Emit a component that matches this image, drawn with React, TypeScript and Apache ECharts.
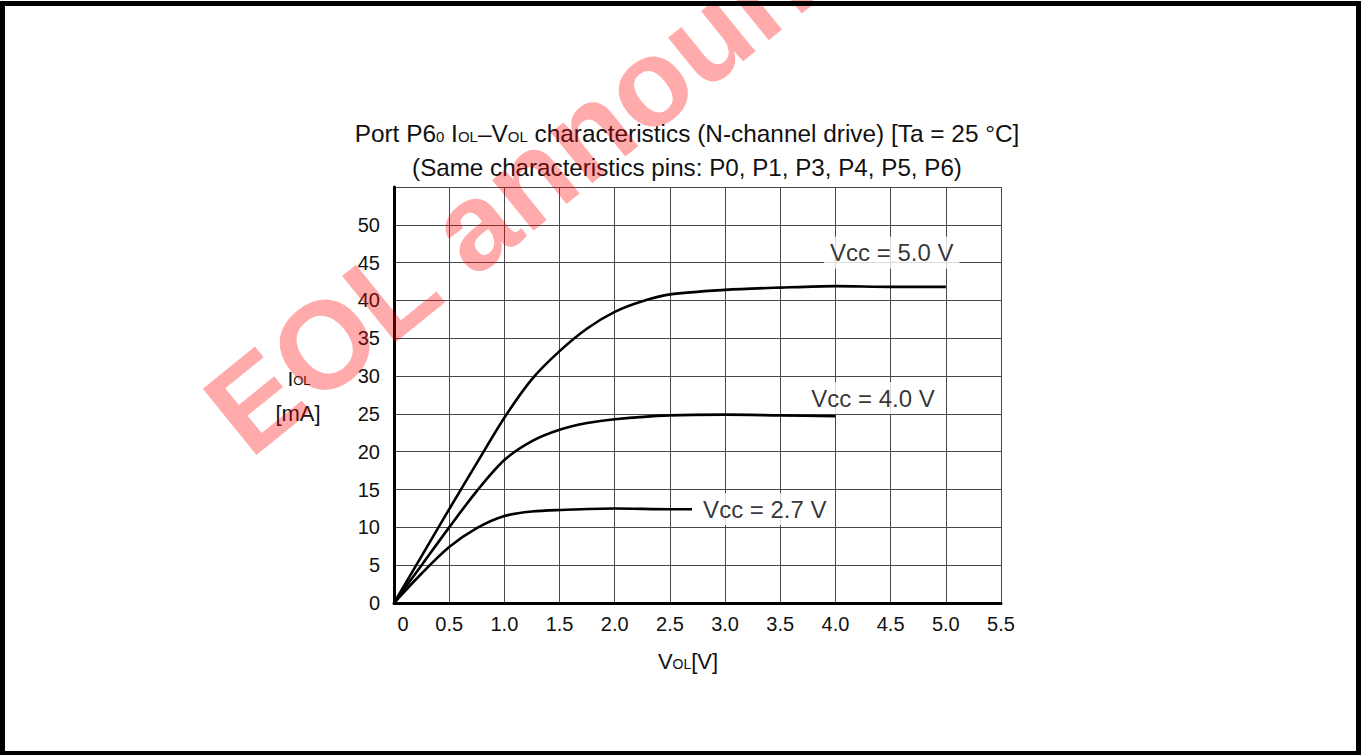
import React, { useEffect, useRef } from "react";
import * as echarts from "echarts";

// Vcc = 5.0 V curve
const vol50 = [0, 0.25, 0.5, 0.75, 1.0, 1.25, 1.5, 1.75, 2.0, 2.25, 2.5, 3.0, 3.5, 4.0, 4.5, 5.0];
const iol50 = [0, 6.2, 12.4, 18.5, 24.5, 29.6, 33.3, 36.3, 38.5, 39.9, 40.8, 41.4, 41.7, 41.9, 41.8, 41.8];
// Vcc = 4.0 V curve
const vol40 = [0, 0.25, 0.5, 0.75, 1.0, 1.25, 1.5, 1.75, 2.0, 2.5, 3.0, 3.5, 4.0];
const iol40 = [0, 5.0, 10.0, 14.8, 18.9, 21.4, 22.9, 23.8, 24.3, 24.8, 24.9, 24.8, 24.7];
// Vcc = 2.7 V curve
const vol27 = [0, 0.25, 0.5, 0.75, 1.0, 1.25, 1.5, 2.0, 2.5, 2.7];
const iol27 = [0, 3.9, 7.4, 9.9, 11.5, 12.1, 12.3, 12.5, 12.4, 12.4];

// curve labels
const labelText = ["Vcc = 5.0 V", "Vcc = 4.0 V", "Vcc = 2.7 V"];
const labelVol = [4.51, 4.34, 3.36];
const labelIol = [46.3, 27.1, 12.4];

// axes
const xMin = 0, xMax = 5.5, xStep = 0.5;
const yMin = 0, yMax = 55, yStep = 5;

const FONT = "'Liberation Sans', Arial, Helvetica, sans-serif";

const pairs = (xs: number[], ys: number[]) => xs.map((x, i) => [x, ys[i]]);

export default function App() {
  const ref = useRef<HTMLDivElement>(null);
  useEffect(() => {
    if (!ref.current) return;
    const chart = echarts.init(ref.current, null, { renderer: "svg" });
    const lineSeries = (name: string, data: number[][]) => ({
      name,
      type: "line",
      data,
      smooth: 0.3,
      showSymbol: false,
      symbol: "none",
      lineStyle: { color: "#000", width: 2.6 },
      z: 3,
    });
    const big = (fs: number) => ({ fontSize: fs, fontFamily: FONT, fill: "#111", verticalAlign: "bottom" });
    const small = (fs: number, lift: number) => ({
      fontSize: fs,
      fontFamily: FONT,
      fill: "#111",
      verticalAlign: "bottom",
      padding: [0, 0, lift, 0],
    });
    chart.setOption({
      animation: false,
      backgroundColor: "#fff",
      textStyle: { fontFamily: FONT },
      grid: { left: 394, top: 187, right: 360, bottom: 152 },
      xAxis: {
        type: "value",
        min: xMin,
        max: xMax,
        interval: xStep,
        axisLine: { show: true, onZero: false, lineStyle: { color: "#000", width: 3 } },
        axisTick: { show: false },
        splitLine: { show: true, lineStyle: { color: "#484848", width: 1 } },
        axisLabel: {
          margin: 11,
          fontSize: 20,
          color: "#111",
          fontFamily: FONT,
          formatter: (v: number) => (v === 0 ? "{z|0}" : v.toFixed(1)),
          rich: { z: { fontSize: 20, color: "#111", fontFamily: FONT, padding: [0, 0, 0, 18] } },
        },
      },
      yAxis: {
        type: "value",
        min: yMin,
        max: yMax,
        interval: yStep,
        axisLine: { show: true, onZero: false, lineStyle: { color: "#000", width: 3 } },
        axisTick: { show: false },
        splitLine: { show: true, lineStyle: { color: "#484848", width: 1 } },
        axisLabel: {
          margin: 14,
          fontSize: 20,
          color: "#111",
          fontFamily: FONT,
          formatter: (v: number) => (v === yMax ? "" : String(v)),
        },
      },
      series: [
        lineSeries("Vcc = 5.0 V", pairs(vol50, iol50)),
        lineSeries("Vcc = 4.0 V", pairs(vol40, iol40)),
        lineSeries("Vcc = 2.7 V", pairs(vol27, iol27)),
        {
          name: "labels",
          type: "scatter",
          symbolSize: 1,
          itemStyle: { color: "rgba(0,0,0,0)" },
          z: 2,
          silent: true,
          data: labelVol.map((v, i) => ({
            value: [v, labelIol[i]],
            label: { formatter: labelText[i] },
          })),
          label: {
            show: true,
            position: "inside",
            fontSize: 24,
            color: "#000",
            textBorderWidth: 0,
            textBorderColor: "transparent",
            fontFamily: FONT,
            backgroundColor: "#fff",
            padding: [4, 6, 4, 6],
          },
        },
      ],
      graphic: [
        {
          type: "text",
          x: 687,
          y: 133,
          style: {
            text: "{n|Port P6}{s|0}{n| I}{s|OL}{n|–V}{s|OL}{n| characteristics (N-channel drive) [Ta = 25 °C]}",
            textAlign: "center",
            textVerticalAlign: "middle",
            rich: { n: big(24.4), s: small(15, 1.5) },
          },
        },
        {
          type: "text",
          x: 687,
          y: 167,
          style: {
            text: "(Same characteristics pins: P0, P1, P3, P4, P5, P6)",
            textAlign: "center",
            textVerticalAlign: "middle",
            fontSize: 24.2,
            fontFamily: FONT,
            fill: "#111",
          },
        },
        {
          type: "text",
          x: 299,
          y: 378,
          style: {
            text: "{n|I}{s|OL}",
            textAlign: "center",
            textVerticalAlign: "middle",
            rich: { n: big(21), s: small(13, 1.5) },
          },
        },
        {
          type: "text",
          x: 298,
          y: 413,
          style: {
            text: "[mA]",
            textAlign: "center",
            textVerticalAlign: "middle",
            fontSize: 22,
            fontFamily: FONT,
            fill: "#111",
          },
        },
        {
          type: "text",
          x: 688,
          y: 661,
          style: {
            text: "{n|V}{s|OL}{n|[V]}",
            textAlign: "center",
            textVerticalAlign: "middle",
            rich: { n: big(22), s: small(14, 1.5) },
          },
        },
        {
          type: "text",
          x: 262,
          y: 475,
          rotation: (39 * Math.PI) / 180,
          z: 100,
          silent: true,
          style: {
            text: "EOL announced",
            textAlign: "left",
            textVerticalAlign: "bottom",
            fontSize: 124,
            fontWeight: "bold",
            fontFamily: FONT,
            fill: "rgba(255,0,0,0.33)",
          },
        },
        {
          type: "rect",
          z: 101,
          shape: { x: 2.5, y: 3.5, width: 1356, height: 750 },
          style: { fill: "none", stroke: "#000", lineWidth: 5 },
        },
      ],
    });
    return () => chart.dispose();
  }, []);
  return (
    <div
      ref={ref}
      style={{ position: "fixed", left: 0, top: 0, width: 1361, height: 755, background: "#fff" }}
    />
  );
}
